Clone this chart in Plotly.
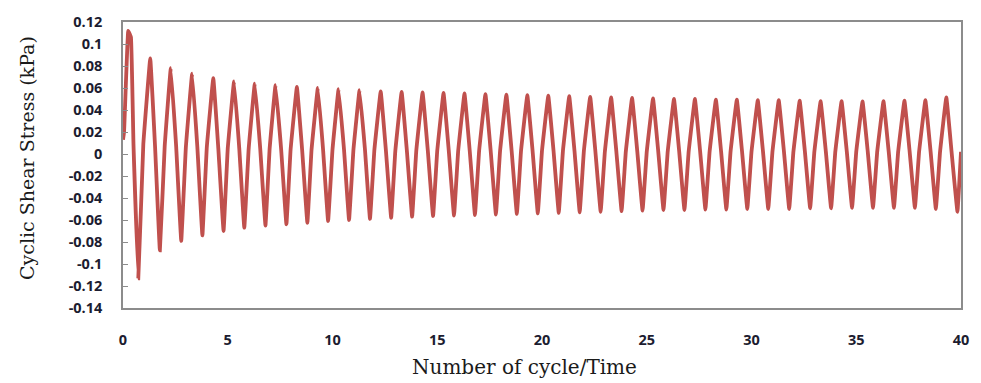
import plotly.graph_objects as go

# ---- data ----
# first cycle start and early double hump
start_time = [0.0, 0.05]
start_stress = [0.013, 0.02]
hump_time = [0.25, 0.38]
hump_stress = [0.112, 0.106]

# per-cycle peak (cycles 1..39)
peak_time = [1.3, 2.28, 3.3, 4.31, 5.3, 6.29, 7.28, 8.3, 9.3, 10.29, 11.29, 12.3, 13.3,
             14.3, 15.3, 16.3, 17.3, 18.3, 19.3, 20.3, 21.3, 22.3, 23.3, 24.3, 25.3, 26.3,
             27.3, 28.3, 29.3, 30.3, 31.3, 32.3, 33.3, 34.3, 35.3, 36.3, 37.3, 38.3, 39.3]
peak_stress = [0.087, 0.078, 0.073, 0.069, 0.066, 0.064, 0.0625, 0.061, 0.060, 0.059,
               0.058, 0.057, 0.0565, 0.056, 0.0555, 0.055, 0.0545, 0.054, 0.0535, 0.053,
               0.0525, 0.052, 0.0515, 0.051, 0.0505, 0.050, 0.050, 0.0495, 0.0495, 0.049,
               0.049, 0.0485, 0.048, 0.048, 0.0478, 0.048, 0.0485, 0.049, 0.0515]

# per-cycle descending shoulder (cycles 0..39)
kdown_time = [0.5, 1.53, 2.54, 3.55, 4.55, 5.55, 6.55, 7.55, 8.55, 9.55, 10.55, 11.55,
              12.55, 13.55, 14.55, 15.55, 16.55, 17.55, 18.55, 19.55, 20.55, 21.55, 22.55,
              23.55, 24.55, 25.55, 26.55, 27.55, 28.55, 29.55, 30.55, 31.55, 32.55, 33.55,
              34.55, 35.55, 36.55, 37.55, 38.55, 39.55]
kdown_stress = [0.009, 0.007, 0.006, 0.006, 0.005, 0.005, 0.005, 0.004, 0.004, 0.004,
                0.004, 0.004, 0.003, 0.003, 0.003, 0.003, 0.003, 0.003, 0.003, 0.003,
                0.003, 0.003, 0.002, 0.002, 0.002, 0.002, 0.002, 0.002, 0.002, 0.002,
                0.002, 0.002, 0.002, 0.002, 0.002, 0.002, 0.002, 0.002, 0.002, 0.002]

# per-cycle trough (cycles 0..39)
trough_time = [0.73, 1.76, 2.78, 3.79, 4.8, 5.79, 6.8, 7.8, 8.8, 9.79, 10.79, 11.79,
               12.8, 13.8, 14.8, 15.8, 16.8, 17.8, 18.8, 19.8, 20.8, 21.8, 22.8, 23.8,
               24.8, 25.8, 26.8, 27.8, 28.8, 29.8, 30.8, 31.8, 32.8, 33.8, 34.8, 35.8,
               36.8, 37.8, 38.8, 39.83]
trough_stress = [-0.113, -0.0875, -0.079, -0.074, -0.070, -0.067, -0.065, -0.064,
                 -0.0625, -0.061, -0.060, -0.059, -0.058, -0.057, -0.0565, -0.056,
                 -0.0555, -0.055, -0.0545, -0.054, -0.0535, -0.053, -0.0525, -0.052,
                 -0.0515, -0.051, -0.051, -0.0505, -0.0505, -0.050, -0.050, -0.050,
                 -0.0495, -0.0495, -0.049, -0.049, -0.049, -0.049, -0.050, -0.0525]

# per-cycle rising shoulder (cycles 0..38)
kup_time = [0.97, 1.99, 3.0, 4.0, 5.0, 6.0, 7.0, 8.0, 9.0, 10.0, 11.0, 12.0, 13.0, 14.0,
            15.0, 16.0, 17.0, 18.0, 19.0, 20.0, 21.0, 22.0, 23.0, 24.0, 25.0, 26.0, 27.0,
            28.0, 29.0, 30.0, 31.0, 32.0, 33.0, 34.0, 35.0, 36.0, 37.0, 38.0, 39.0]
kup_stress = [0.009, 0.007, 0.006, 0.006, 0.005, 0.005, 0.005, 0.004, 0.004, 0.004,
              0.004, 0.004, 0.003, 0.003, 0.003, 0.003, 0.003, 0.003, 0.003, 0.003,
              0.003, 0.003, 0.002, 0.002, 0.002, 0.002, 0.002, 0.002, 0.002, 0.002,
              0.002, 0.002, 0.002, 0.002, 0.002, 0.002, 0.002, 0.002, 0.002]

end_time = [40.0]
end_stress = [0.002]

y_tickvals = [0.12, 0.1, 0.08, 0.06, 0.04, 0.02, 0, -0.02, -0.04, -0.06, -0.08, -0.1, -0.12, -0.14]
y_ticktext = ["0.12", "0.1", "0.08", "0.06", "0.04", "0.02", "0", "-0.02", "-0.04",
              "-0.06", "-0.08", "-0.1", "-0.12", "-0.14"]
x_tickvals = [0, 5, 10, 15, 20, 25, 30, 35, 40]
x_ticktext = ["0", "5", "10", "15", "20", "25", "30", "35", "40"]

# ---- assemble polyline from the read points ----
t = list(start_time) + list(hump_time)
s = list(start_stress) + list(hump_stress)
for i in range(len(trough_time)):
    if i > 0:
        t.append(peak_time[i - 1]); s.append(peak_stress[i - 1])
    t.append(kdown_time[i]); s.append(kdown_stress[i])
    t.append(trough_time[i]); s.append(trough_stress[i])
    if i < len(kup_time):
        t.append(kup_time[i]); s.append(kup_stress[i])
t += end_time
s += end_stress

fig = go.Figure()
fig.add_trace(go.Scatter(x=t, y=s, mode="lines",
                         line=dict(color="#C0504D", width=3.8, shape="spline", smoothing=0.2),
                         showlegend=False, hoverinfo="skip"))

tick_font = dict(family="Open Sans, Liberation Sans, sans-serif", size=14.5,
                 color="#1c1c30", weight="bold")
fig.update_layout(
    width=981, height=383,
    margin=dict(l=123, r=14, t=15, b=75),
    paper_bgcolor="white", plot_bgcolor="white",
    xaxis=dict(range=[0, 40], tickvals=x_tickvals, ticktext=x_ticktext,
               showgrid=False, zeroline=False, showline=True, linecolor="#8c8c8c",
               linewidth=1.5, mirror=True, ticks="", ticklabelstandoff=18,
               tickfont=tick_font),
    yaxis=dict(range=[-0.14, 0.12], tickvals=y_tickvals, ticktext=y_ticktext,
               showgrid=False, zeroline=False, showline=True, linecolor="#8c8c8c",
               linewidth=1.5, mirror=True, ticks="inside", ticklen=5, tickcolor="#8c8c8c",
               ticklabelstandoff=16, tickfont=tick_font),
    annotations=[
        dict(text="Number of cycle/Time", x=0.5, y=-0.205, xref="paper", yref="paper",
             showarrow=False, xanchor="center", yanchor="middle", xshift=-18,
             font=dict(family="DejaVu Serif, serif", size=20, color="#1a1a1a")),
        dict(text="Cyclic Shear Stress (kPa)", x=0, y=0.5, xref="paper", yref="paper",
             showarrow=False, textangle=-90, xanchor="center", yanchor="middle",
             xshift=-96, yshift=7,
             font=dict(family="DejaVu Serif, serif", size=19, color="#1a1a1a")),
    ],
)
fig.write_html("out.html")
